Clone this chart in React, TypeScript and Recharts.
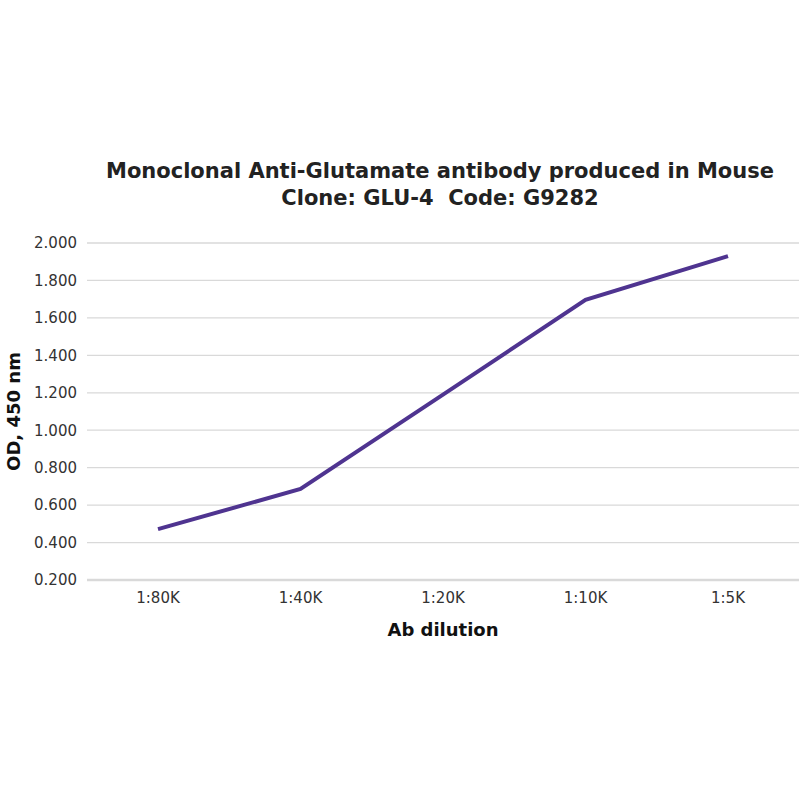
import React from "react";
import { LineChart, Line, XAxis, YAxis, CartesianGrid } from "recharts";

const dilutions = ["1:80K", "1:40K", "1:20K", "1:10K", "1:5K"];
const odValues = [0.472, 0.686, 1.19, 1.696, 1.93];
const yTicks = [0.2, 0.4, 0.6, 0.8, 1.0, 1.2, 1.4, 1.6, 1.8, 2.0];

const data = dilutions.map((d, i) => ({ dilution: d, od: odValues[i] }));

const FONT = "'DejaVu Sans', Verdana, sans-serif";

const YLabel = ({ viewBox }: any) => {
  const cy = viewBox.y + viewBox.height / 2;
  const cx = 13;
  return (
    <text
      x={cx}
      y={cy}
      transform={`rotate(-90, ${cx}, ${cy})`}
      textAnchor="middle"
      dominantBaseline="central"
      fontFamily={FONT}
      fontWeight="bold"
      fontSize={18}
      fill="#111"
    >
      OD, 450 nm
    </text>
  );
};

const XLabel = ({ viewBox }: any) => {
  const cx = viewBox.x + viewBox.width / 2;
  return (
    <text
      x={cx}
      y={629}
      textAnchor="middle"
      dominantBaseline="central"
      fontFamily={FONT}
      fontWeight="bold"
      fontSize={18}
      fill="#111"
    >
      Ab dilution
    </text>
  );
};

export default function App() {
  return (
    <div style={{ position: "absolute", top: 0, left: 0, width: 800, height: 800, background: "#fff" }}>
      <div
        style={{
          position: "absolute",
          top: 158,
          left: 0,
          width: 880,
          textAlign: "center",
          fontFamily: FONT,
          fontSize: 21,
          fontWeight: "bold",
          lineHeight: "27px",
          color: "#222",
          whiteSpace: "pre",
        }}
      >
        {"Monoclonal Anti-Glutamate antibody produced in Mouse\nClone: GLU-4  Code: G9282"}
      </div>
      <LineChart
        width={800}
        height={800}
        data={data}
        margin={{ top: 243, right: 1, left: 0, bottom: 150 }}
      >
        <CartesianGrid vertical={false} stroke="#d9d9d9" strokeWidth={1.3} />
        <XAxis
          dataKey="dilution"
          height={70}
          padding={{ left: 71, right: 71 }}
          tickLine={false}
          axisLine={{ stroke: "#d9d9d9", strokeWidth: 2.5 }}
          tick={{ fontFamily: FONT, fontSize: 15, fill: "#333" }}
          tickMargin={6}
          label={<XLabel />}
        />
        <YAxis
          width={87}
          domain={[0.2, 2.0]}
          ticks={yTicks}
          tickFormatter={(v: number) => v.toFixed(3)}
          axisLine={false}
          tickLine={false}
          tick={{ fontFamily: FONT, fontSize: 15, fill: "#333" }}
          tickMargin={4}
          label={<YLabel />}
        />
        <Line
          type="linear"
          dataKey="od"
          stroke="#4f3490"
          strokeWidth={4}
          dot={false}
          isAnimationActive={false}
        />
      </LineChart>
    </div>
  );
}
